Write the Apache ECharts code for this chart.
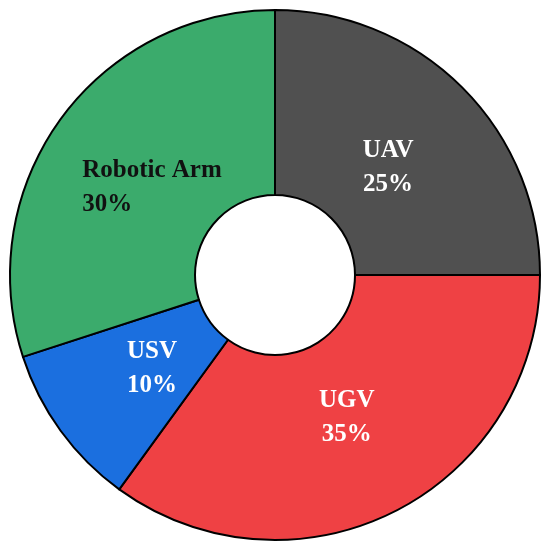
<!DOCTYPE html>
<html>
<head>
<meta charset="utf-8">
<style>
  html, body { margin: 0; padding: 0; background: #fff; }
  #chart { width: 550px; height: 553px; }
</style>
<script src="https://cdn.jsdelivr.net/npm/echarts@6/dist/echarts.min.js"></script>
</head>
<body>
<div id="chart"></div>
<script>
// 数据
var categories = ["UAV", "UGV", "USV", "Robotic Arm"];
var shares = [25, 35, 10, 30];

// 样式
var colors = ["#505050", "#ef4144", "#1b6fdf", "#3bab6c"];
var labelColors = ["#fff", "#fff", "#fff", "#111"];
var labelOffsets = [[-11, 17], [-8, -14], [19, -10], [19, 16]];
var lineAligns = ["center", "center", "center", "left"];

(function () {
    var myChart = echarts.init(document.getElementById("chart"));
    var font = "'Liberation Serif', 'Times New Roman', serif";
    var data = categories.map(function (name, i) {
        var txt = { align: lineAligns[i], color: labelColors[i], fontFamily: font, fontWeight: "bold", fontSize: 25, lineHeight: 34 };
        return {
            name: name,
            value: shares[i],
            itemStyle: { color: colors[i] },
            label: {
                offset: labelOffsets[i],
                rich: { t: txt }
            }
        };
    });
    var option = {
        animation: false,
        series: [
            {
                type: "pie",
                center: [275, 275],
                radius: [80, 265],
                startAngle: 90,
                clockwise: true,
                itemStyle: {
                    borderColor: "#000",
                    borderWidth: 2
                },
                label: {
                    show: true,
                    position: "inside",
                    // 每行一个富文本片段，方便左对齐
                    formatter: function (p) {
                        return "{t|" + p.name + "}\n{t|" + p.value + "%}";
                    }
                },
                labelLine: { show: false },
                emphasis: { disabled: true },
                data: data
            }
        ]
    };
    myChart.setOption(option);
})();
</script>
</body>
</html>
